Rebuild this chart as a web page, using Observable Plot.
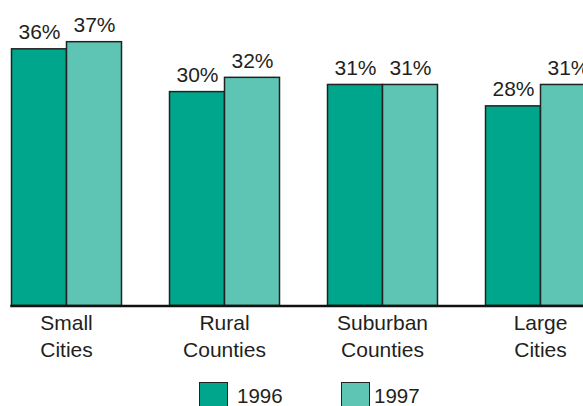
<!DOCTYPE html>
<html>
<head>
<meta charset="utf-8">
<script src="https://cdn.jsdelivr.net/npm/d3@7"></script>
<script src="https://cdn.jsdelivr.net/npm/@observablehq/plot@0.6"></script>
<style>
  body { margin: 0; background: #fff; }
  #wrap { position: relative; width: 583px; height: 406px; overflow: hidden; font-family: "Liberation Sans", Arial, sans-serif; }
  #wrap svg { max-width: none !important; display: block; }
  #legend { position: absolute; top: 382px; left: 0; width: 583px; height: 24px; }
  .sw { position: absolute; top: 0; width: 29px; height: 27px; border: 1.5px solid #222; box-sizing: border-box; }
  .lt { position: absolute; top: 5.4px; font-size: 20.5px; color: #231f20; line-height: 18px; }
</style>
</head>
<body>
<div id="wrap"></div>
<script>
const categories = ["Small Cities", "Rural Counties", "Suburban Counties", "Large Cities"];
const categoryLabels = ["Small\nCities", "Rural\nCounties", "Suburban\nCounties", "Large\nCities"];
const years = ["1996", "1997"];
const values1996 = [36, 30, 31, 28];
const values1997 = [37, 32, 31, 31];
const yearColors = ["#00a68c", "#5ec4b4"];

const data = [];
categories.forEach((c, i) => {
  data.push({category: c, year: years[0], value: values1996[i]});
  data.push({category: c, year: years[1], value: values1997[i]});
});
const labelOf = new Map(categories.map((c, i) => [c, categoryLabels[i]]));

const chart = Plot.plot({
  width: 640,
  height: 376,
  marginLeft: 9.5,
  marginRight: 44.5,
  marginTop: 20.3,
  marginBottom: 70.5,
  style: {fontFamily: "'Liberation Sans', Arial, sans-serif", color: "#231f20", background: "transparent", maxWidth: "none"},
  fx: {domain: categories, paddingInner: 0.306, paddingOuter: 0, label: null},
  x: {domain: years, padding: 0, axis: null},
  y: {domain: [0, 40], axis: null},
  color: {domain: years, range: yearColors},
  marks: [
    Plot.barY(data, {fx: "category", x: "year", y: "value", fill: "year", stroke: "#222", strokeWidth: 1.5, inset: 0}),
    Plot.text(data, {fx: "category", x: "year", y: "value", text: d => d.value + "%", dy: -10, lineAnchor: "bottom", fontSize: 21, fill: "#231f20"}),
    Plot.frame({anchor: "bottom", facet: "super", stroke: "#111", strokeWidth: 2.5}),
    Plot.axisFx({anchor: "bottom", tickSize: 0, tickPadding: 5, fontSize: 21, lineHeight: 1.29, tickFormat: d => labelOf.get(d), label: null, fill: "#231f20"})
  ]
});

const wrap = document.getElementById("wrap");
wrap.appendChild(chart);

const legend = document.createElement("div");
legend.id = "legend";
const legendPos = [{sw: 199, tx: 237}, {sw: 341, tx: 374}];
years.forEach((y, i) => {
  const sw = document.createElement("div");
  sw.className = "sw";
  sw.style.left = legendPos[i].sw + "px";
  sw.style.background = yearColors[i];
  const t = document.createElement("div");
  t.className = "lt";
  t.style.left = legendPos[i].tx + "px";
  t.textContent = y;
  legend.appendChild(sw);
  legend.appendChild(t);
});
wrap.appendChild(legend);
</script>
</body>
</html>
